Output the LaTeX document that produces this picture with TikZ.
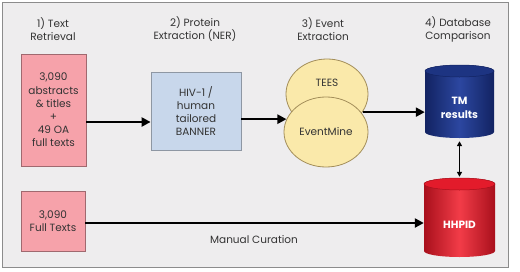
\documentclass[tikz,border=0pt]{standalone}
\usepackage{fontspec}
\setmainfont{Poppins}
\usetikzlibrary{shapes.geometric,arrows.meta}
\definecolor{bgc}{HTML}{EEEDEE}
\definecolor{framec}{HTML}{8C8C8C}
\definecolor{pinkf}{HTML}{F6A2AA}
\definecolor{pinkd}{HTML}{A0696F}
\definecolor{bluef}{HTML}{C8D7EB}
\definecolor{blued}{HTML}{8E97A3}
\definecolor{ellf}{HTML}{FAE9AA}
\definecolor{elld}{HTML}{A38E5A}
\definecolor{navy}{HTML}{1D3482}
\definecolor{navyd}{HTML}{122362}
\definecolor{navyl}{HTML}{2C47A0}
\definecolor{redm}{HTML}{E31B2B}
\definecolor{redd}{HTML}{A9101C}
\definecolor{redl}{HTML}{F23C48}
\definecolor{txt}{HTML}{333333}
\tikzset{
  hdr/.style={text=txt,font=\fontsize{10.5}{13}\selectfont,align=center},
  pinkbox/.style={draw=pinkd,fill=pinkf,line width=0.8pt,text=txt,font=\fontsize{10.5}{13.2}\selectfont,align=center,inner sep=0pt},
  bluebox/.style={draw=blued,fill=bluef,line width=0.8pt,text=txt,font=\fontsize{10.5}{13.2}\selectfont,align=center,inner sep=0pt},
  ellbox/.style={ellipse,draw=elld,fill=ellf,line width=0.8pt,text=txt,font=\fontsize{10.5}{13}\selectfont,inner sep=0pt},
  dbtext/.style={text=white,font=\fontsize{10.5}{14}\selectfont\bfseries,align=center,inner sep=0pt},
  arr/.style={line width=2.4pt,-{Triangle[length=9pt,width=9pt]}},
  darr/.style={line width=1.3pt,{Triangle[length=5pt,width=5pt]}-{Triangle[length=5pt,width=5pt]}}
}
\begin{document}
\begin{tikzpicture}[x=1pt,y=-1pt]
\useasboundingbox (0,0) rectangle (520,271);
\fill[white] (0,0) rectangle (520,271);
\draw[draw=framec,fill=bgc,line width=0.8pt] (2.5,2.5) rectangle (508.5,267.5);

% headers
\node[hdr] (h1) at (53,29.5) {1) Text\\Retrieval};
\node[hdr] (h2) at (195,29.5) {2) Protein\\Extraction (NER)};
\node[hdr] (h3) at (323,29.5) {3) Event\\Extraction};
\node[hdr] (h4) at (458,29.5) {4) Database\\Comparison};

% boxes
\node[pinkbox,minimum width=65pt,minimum height=112pt] (b1) at (53.5,110)
  {3,090\\abstracts\\\& titles\\+\\49 OA\\full texts};
\node[bluebox,minimum width=90pt,minimum height=78pt] (b2) at (196,111)
  {HIV-1 /\\human\\tailored\\BANNER};
\node[pinkbox,minimum width=64pt,minimum height=60pt] (b3) at (53,221)
  {3,090\\Full Texts};

% ellipses
\node[ellbox,minimum width=82pt,minimum height=70pt] (tees) at (327,94) {};
\node[text=txt,font=\fontsize{10.5}{13}\selectfont] (teest) at (327,83) {TEES};
\node[ellbox,minimum width=84pt,minimum height=70pt] (em) at (326,132) {EventMine};

% cylinders
\node[minimum width=69pt,minimum height=73pt,inner sep=0pt] (tm) at (459.5,101.5) {};
\shade[left color=navyd,right color=navyd,middle color=navyl]
  (425,71) -- (425,132) arc[start angle=180,end angle=360,x radius=34.5pt,y radius=6pt]
  -- (494,71) arc[start angle=0,end angle=180,x radius=34.5pt,y radius=6pt] -- cycle;
\fill[navy] (459.5,71) ellipse[x radius=34.5pt,y radius=6pt];
\draw[navyd,line width=0.5pt] (459.5,71) ellipse[x radius=34.5pt,y radius=6pt];
\node[dbtext] (tmt) at (459.5,108) {TM\\results};

\node[minimum width=71pt,minimum height=79pt,inner sep=0pt] (hh) at (459.5,217.5) {};
\shade[left color=redd,right color=redd,middle color=redl]
  (424,184) -- (424,251) arc[start angle=180,end angle=360,x radius=35.5pt,y radius=6pt]
  -- (495,184) arc[start angle=0,end angle=180,x radius=35.5pt,y radius=6pt] -- cycle;
\fill[redm] (459.5,184) ellipse[x radius=35.5pt,y radius=6pt];
\draw[redd,line width=0.5pt] (459.5,184) ellipse[x radius=35.5pt,y radius=6pt];
\node[dbtext] (hht) at (459.5,225) {HHPID};

% connectors
\draw[arr] ([yshift=-12pt]b1.east) -- ([yshift=-12pt]b1.east -| b2.west);
\draw[arr] (b2.east |- em.162) -- (em.162);
\draw[arr] (tees.-27) -- (tees.-27 -| tm.west);
\draw[arr] ([yshift=-2pt]b3.east) -- ([yshift=-2pt]b3.east -| hh.west);
\draw[darr] ([yshift=-3pt]tm.south) -- ([yshift=1pt]hh.north);
\node[text=txt,font=\fontsize{10.5}{13}\selectfont] (mc) at (254,240) {Manual Curation};
\end{tikzpicture}
\end{document}
